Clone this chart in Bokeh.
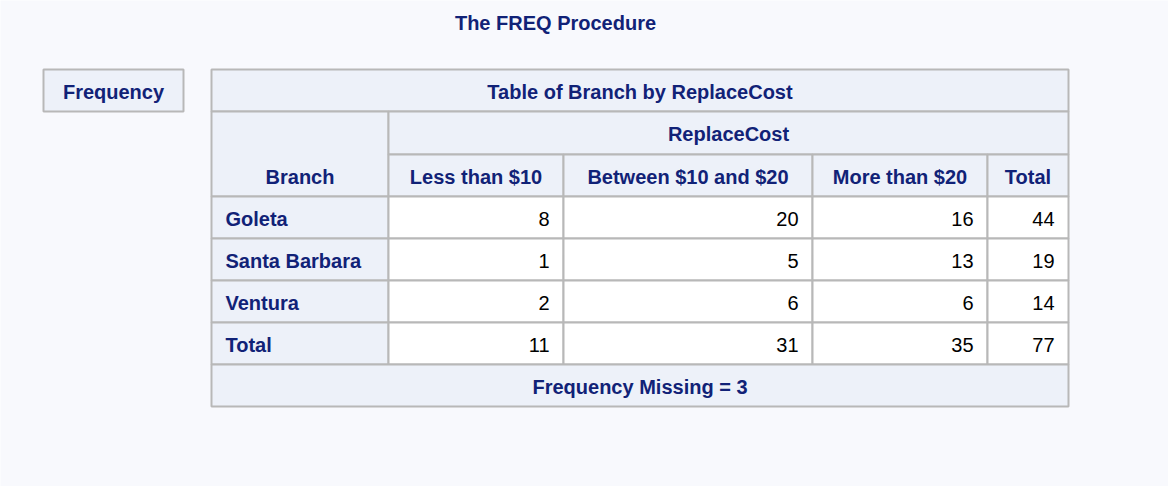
from bokeh.plotting import figure
from bokeh.models import ColumnDataSource, Range1d
from bokeh.core.properties import value
from bokeh.embed import file_html
from bokeh.resources import INLINE

title = "The FREQ Procedure"
table_title = "Table of Branch by ReplaceCost"
col_var = "ReplaceCost"
row_var = "Branch"
columns = ["Less than $10", "Between $10 and $20", "More than $20", "Total"]
branches = ["Goleta", "Santa Barbara", "Ventura", "Total"]
counts = [[8, 20, 16, 44],
          [1, 5, 13, 19],
          [2, 6, 6, 14],
          [11, 31, 35, 77]]
footer = "Frequency Missing = 3"

BG = "#f8f9fd"
HEAD = "#edf1f9"
LINE = "#b8b8b8"
INK = "#112277"
FONT = "Liberation Sans"
FS = "20px"

W, H = 1168, 486
p = figure(width=W, height=H, output_backend="svg", toolbar_location=None,
           x_range=Range1d(0, W), y_range=Range1d(H, 0), min_border=0)
p.axis.visible = False
p.grid.visible = False
p.outline_line_color = None
p.background_fill_color = BG
p.border_fill_color = BG

xs = [211, 388, 563, 812, 987, 1068]
ys = [69, 111, 154, 196, 238, 280, 322, 364, 406]

cells = dict(l=[], r=[], t=[], b=[], fill=[])
def cell(x0, x1, y0, y1, fill):
    cells["l"].append(x0); cells["r"].append(x1)
    cells["t"].append(y0); cells["b"].append(y1)
    cells["fill"].append(fill)

texts = dict(x=[], y=[], text=[], align=[])
def txt(x, y, s, align="center"):
    texts["x"].append(x); texts["y"].append(y)
    texts["text"].append(s); texts["align"].append(align)

# Frequency legend box
cell(43, 183, 69, 111, HEAD)
txt(113, 91, "Frequency")

# header rows
cell(xs[0], xs[-1], ys[0], ys[1], HEAD)
txt((xs[0] + xs[-1]) / 2, (ys[0] + ys[1]) / 2 + 1, table_title)
cell(xs[0], xs[1], ys[1], ys[3], HEAD)
txt((xs[0] + xs[1]) / 2, (ys[2] + ys[3]) / 2 + 1, row_var)
cell(xs[1], xs[-1], ys[1], ys[2], HEAD)
txt((xs[1] + xs[-1]) / 2, (ys[1] + ys[2]) / 2 + 1, col_var)
for j, c in enumerate(columns):
    cell(xs[j + 1], xs[j + 2], ys[2], ys[3], HEAD)
    txt((xs[j + 1] + xs[j + 2]) / 2, (ys[2] + ys[3]) / 2 + 1, c)

for i, b in enumerate(branches):
    y0, y1 = ys[3 + i], ys[4 + i]
    cell(xs[0], xs[1], y0, y1, HEAD)
    txt(xs[0] + 14, (y0 + y1) / 2 + 1, b, "left")
    for j, v in enumerate(counts[i]):
        cell(xs[j + 1], xs[j + 2], y0, y1, "white")
        txt(xs[j + 2] - 14, (y0 + y1) / 2 + 1, str(v), "right")

cell(xs[0], xs[-1], ys[7], ys[8], HEAD)
txt((xs[0] + xs[-1]) / 2, (ys[7] + ys[8]) / 2 + 1, footer)

p.quad(left="l", right="r", top="t", bottom="b", fill_color="fill",
       line_color=LINE, line_width=2, source=ColumnDataSource(cells))

for a in ["left", "center", "right"]:
    sub = {k: [v for v, al in zip(texts[k], texts["align"]) if al == a] for k in texts}
    p.text(x="x", y="y", text="text", source=ColumnDataSource(sub),
           text_align=a, text_baseline="middle", text_font=value(FONT),
           text_font_style="normal" if a == "right" else "bold",
           text_color="black" if a == "right" else INK, text_font_size=FS)

p.text(x=[555], y=[22], text=[title], text_align="center", text_baseline="middle",
       text_font=value(FONT), text_font_style="bold", text_color=INK, text_font_size=FS)

open("out.html", "w").write(file_html(p, INLINE))
